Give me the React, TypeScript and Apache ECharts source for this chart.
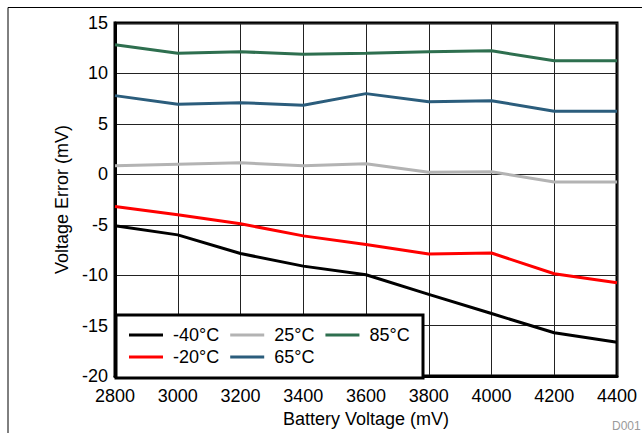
import React, { useEffect, useRef } from "react";
import * as echarts from "echarts";

const batteryVoltage = [2800, 3000, 3200, 3400, 3600, 3800, 4000, 4200, 4400];
const errMinus40 = [-5.1, -6.0, -7.85, -9.1, -9.95, -11.9, -13.8, -15.7, -16.65];
const errMinus20 = [-3.2, -4.0, -4.9, -6.1, -6.95, -7.9, -7.8, -9.85, -10.75];
const err25 = [0.85, 1.0, 1.15, 0.85, 1.05, 0.2, 0.25, -0.75, -0.75];
const err65 = [7.8, 6.95, 7.1, 6.85, 8.0, 7.2, 7.3, 6.25, 6.25];
const err85 = [12.85, 12.0, 12.15, 11.9, 12.0, 12.15, 12.25, 11.25, 11.25];

const seriesNames = ["-40°C", "-20°C", "25°C", "65°C", "85°C"];
const seriesColors = ["#000000", "#ff0000", "#b3b3b3", "#2b5d7c", "#2e6f4f"];
const seriesValues = [errMinus40, errMinus20, err25, err65, err85];

const yTicks = { min: -20, max: 15, interval: 5 };
const xTicks = { min: 2800, max: 4400, interval: 200 };

const FONT = "'Liberation Sans', Arial, sans-serif";

export default function App() {
  const ref = useRef<HTMLDivElement>(null);
  useEffect(() => {
    if (!ref.current) return;
    const chart = echarts.init(ref.current, undefined, { renderer: "svg" });
    const legendCommon = {
      orient: "horizontal" as const,
      padding: 0,
      itemWidth: 34,
      itemHeight: 3,
      itemGap: 11,
      icon: "rect",
      textStyle: {
        fontSize: 18,
        fontFamily: FONT,
        color: "#000",
        lineHeight: 18,
        padding: [0, 0, 0, 5],
      },
    };
    chart.setOption({
      animation: false,
      textStyle: { fontFamily: FONT },
      grid: {
        left: 115,
        right: 25,
        top: 23,
        bottom: 53,
        show: true,
        borderColor: "#000",
        borderWidth: 3,
        backgroundColor: "transparent",
      },
      xAxis: {
        type: "value",
        min: xTicks.min,
        max: xTicks.max,
        interval: xTicks.interval,
        name: "Battery Voltage (mV)",
        nameLocation: "middle",
        nameGap: 32,
        nameTextStyle: { fontSize: 18, color: "#000", fontFamily: FONT },
        axisLine: { show: true, onZero: false, lineStyle: { color: "#000", width: 3 } },
        axisTick: { show: false },
        axisLabel: {
          fontSize: 18,
          color: "#000",
          margin: 11,
          fontFamily: FONT,
          formatter: (v: number) => String(v),
        },
        splitLine: { show: true, lineStyle: { color: "#222", width: 1 } },
      },
      yAxis: {
        type: "value",
        min: yTicks.min,
        max: yTicks.max,
        interval: yTicks.interval,
        name: "Voltage Error (mV)",
        nameLocation: "middle",
        nameGap: 40,
        nameTextStyle: { fontSize: 18, color: "#000", fontFamily: FONT },
        axisLine: { show: true, onZero: false, lineStyle: { color: "#000", width: 3 } },
        axisTick: { show: false },
        axisLabel: { fontSize: 18, color: "#000", margin: 7, fontFamily: FONT },
        splitLine: { show: true, lineStyle: { color: "#222", width: 1 } },
      },
      legend: [
        { ...legendCommon, left: 129, top: 326, data: ["-40°C", "25°C", "85°C"] },
        { ...legendCommon, left: 129, top: 348, data: ["-20°C", "65°C"] },
      ],
      graphic: [
        {
          type: "rect",
          z: 3,
          shape: { x: 8, y: 7.5, width: 800, height: 600 },
          style: { fill: "none", stroke: "#000", lineWidth: 1 },
          silent: true,
        },
        {
          type: "rect",
          z: 3,
          shape: { x: 116, y: 315, width: 307, height: 63 },
          style: { fill: "#fff", stroke: "#000", lineWidth: 3 },
          silent: true,
        },
        {
          type: "text",
          z: 3,
          x: 612,
          y: 420,
          style: { text: "D001", fontSize: 12, fill: "#9a9a9a", fontFamily: FONT },
          silent: true,
        },
      ],
      series: seriesNames.map((name, i) => ({
        name,
        type: "line",
        symbol: "none",
        z: 2,
        color: seriesColors[i],
        lineStyle: { color: seriesColors[i], width: 3 },
        data: batteryVoltage.map((v, j) => [v, seriesValues[i][j]]),
      })),
    });
    return () => chart.dispose();
  }, []);
  return (
    <div
      ref={ref}
      style={{ position: "fixed", left: 0, top: 0, width: 642, height: 433, background: "#fff" }}
    />
  );
}
